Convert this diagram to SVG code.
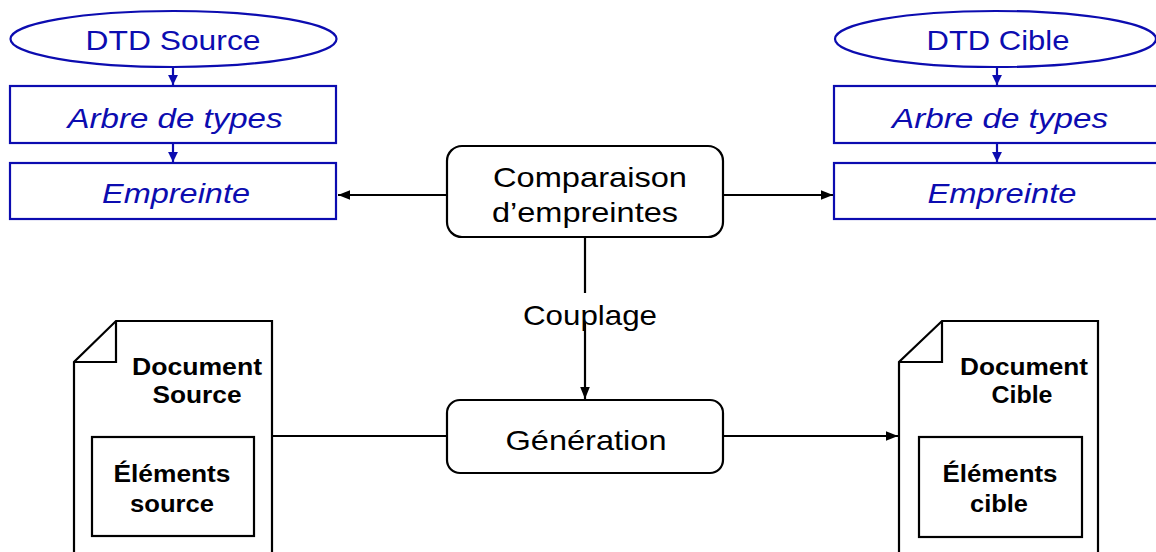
<svg xmlns="http://www.w3.org/2000/svg" width="1156" height="552" viewBox="0 0 1156 552">
<style>
.b{fill:#fff;stroke:#0c0cb0;stroke-width:2.2}
.bt{fill:#0c0cb0;font-family:"Liberation Sans",Arial,sans-serif;font-size:28px;text-anchor:middle}
.it{font-style:italic}
.k{fill:#fff;stroke:#000;stroke-width:2.2}
.kt{fill:#000;font-family:"Liberation Sans",Arial,sans-serif;font-size:28px;text-anchor:middle}
.dt{fill:#000;font-family:"Liberation Sans",Arial,sans-serif;font-size:23px;font-weight:bold;text-anchor:middle}
.ln{fill:none;stroke:#000;stroke-width:2.2}
.lb{fill:none;stroke:#0c0cb0;stroke-width:2.2}
</style>
<defs>
<marker id="ak" viewBox="0 0 10 10" refX="10" refY="5" markerWidth="5.5" markerHeight="5.5" orient="auto" markerUnits="strokeWidth"><path d="M0,1 L10,5 L0,9 z" fill="#000"/></marker>
<marker id="ab" viewBox="0 0 10 10" refX="10" refY="5" markerWidth="4.5" markerHeight="4.5" orient="auto" markerUnits="strokeWidth"><path d="M0,0 L10,5 L0,10 z" fill="#0c0cb0"/></marker>
</defs>
<rect width="1156" height="552" fill="#fff"/>
<g id="connectors">
<line class="lb" x1="173" y1="67" x2="173" y2="85" marker-end="url(#ab)"/>
<line class="lb" x1="173" y1="143" x2="173" y2="162" marker-end="url(#ab)"/>
<line class="lb" x1="997" y1="67" x2="997" y2="85" marker-end="url(#ab)"/>
<line class="lb" x1="997" y1="143" x2="997" y2="162" marker-end="url(#ab)"/>
<line class="ln" x1="447" y1="195" x2="338" y2="195" marker-end="url(#ak)"/>
<line class="ln" x1="723" y1="195" x2="833" y2="195" marker-end="url(#ak)"/>
<line class="ln" x1="585" y1="237" x2="585" y2="293"/>
<line class="ln" x1="585" y1="323" x2="585" y2="399" marker-end="url(#ak)"/>
<text class="kt" x="590" y="325" textLength="134" lengthAdjust="spacingAndGlyphs">Couplage</text>
<line class="ln" x1="273" y1="436" x2="447" y2="436"/>
<line class="ln" x1="723" y1="436" x2="898" y2="436" marker-end="url(#ak)"/>
</g>
<g id="dtd-source">
<ellipse class="b" cx="173.5" cy="39" rx="163" ry="28"/>
<text class="bt" x="173" y="50" textLength="175" lengthAdjust="spacingAndGlyphs">DTD Source</text>
</g>
<g id="arbre-source">
<rect class="b" x="10" y="86" width="326" height="57"/>
<text class="bt it" x="175" y="128" textLength="215" lengthAdjust="spacingAndGlyphs">Arbre de types</text>
</g>
<g id="empreinte-source">
<rect class="b" x="10" y="163" width="326" height="56"/>
<text class="bt it" x="176" y="203" textLength="148" lengthAdjust="spacingAndGlyphs">Empreinte</text>
</g>
<g id="dtd-cible">
<ellipse class="b" cx="995.5" cy="39" rx="160.5" ry="28"/>
<text class="bt" x="998" y="50" textLength="143" lengthAdjust="spacingAndGlyphs">DTD Cible</text>
</g>
<g id="arbre-cible">
<rect class="b" x="834" y="86" width="330" height="57"/>
<text class="bt it" x="1000" y="128" textLength="216" lengthAdjust="spacingAndGlyphs">Arbre de types</text>
</g>
<g id="empreinte-cible">
<rect class="b" x="834" y="163" width="330" height="56"/>
<text class="bt it" x="1002" y="203" textLength="149" lengthAdjust="spacingAndGlyphs">Empreinte</text>
</g>
<g id="comparaison">
<rect class="k" x="447" y="146" width="276" height="91" rx="15"/>
<text class="kt" x="590" y="187" textLength="194" lengthAdjust="spacingAndGlyphs">Comparaison</text>
<text class="kt" x="585" y="222" textLength="186" lengthAdjust="spacingAndGlyphs">d’empreintes</text>
</g>
<g id="generation">
<rect class="k" x="447" y="400" width="276" height="73" rx="13"/>
<text class="kt" x="586" y="450" textLength="161" lengthAdjust="spacingAndGlyphs">Génération</text>
</g>
<g id="document-source">
<path class="k" d="M116,321 L272,321 L272,560 L74,560 L74,362 Z"/>
<path class="ln" d="M116,321 L116,362 L74,362"/>
<text class="dt" x="197" y="375" textLength="130" lengthAdjust="spacingAndGlyphs">Document</text>
<text class="dt" x="197" y="403" textLength="89" lengthAdjust="spacingAndGlyphs">Source</text>
<rect class="k" x="92" y="437" width="162" height="99"/>
<text class="dt" x="172" y="482" textLength="117" lengthAdjust="spacingAndGlyphs">Éléments</text>
<text class="dt" x="172" y="512" textLength="84" lengthAdjust="spacingAndGlyphs">source</text>
</g>
<g id="document-cible">
<path class="k" d="M942,321 L1098,321 L1098,560 L899,560 L899,362 Z"/>
<path class="ln" d="M942,321 L942,362 L899,362"/>
<text class="dt" x="1024" y="375" textLength="128" lengthAdjust="spacingAndGlyphs">Document</text>
<text class="dt" x="1022" y="403" textLength="61" lengthAdjust="spacingAndGlyphs">Cible</text>
<rect class="k" x="919" y="437" width="163" height="100"/>
<text class="dt" x="1000" y="482" textLength="115" lengthAdjust="spacingAndGlyphs">Éléments</text>
<text class="dt" x="999" y="512" textLength="58" lengthAdjust="spacingAndGlyphs">cible</text>
</g>
</svg>
